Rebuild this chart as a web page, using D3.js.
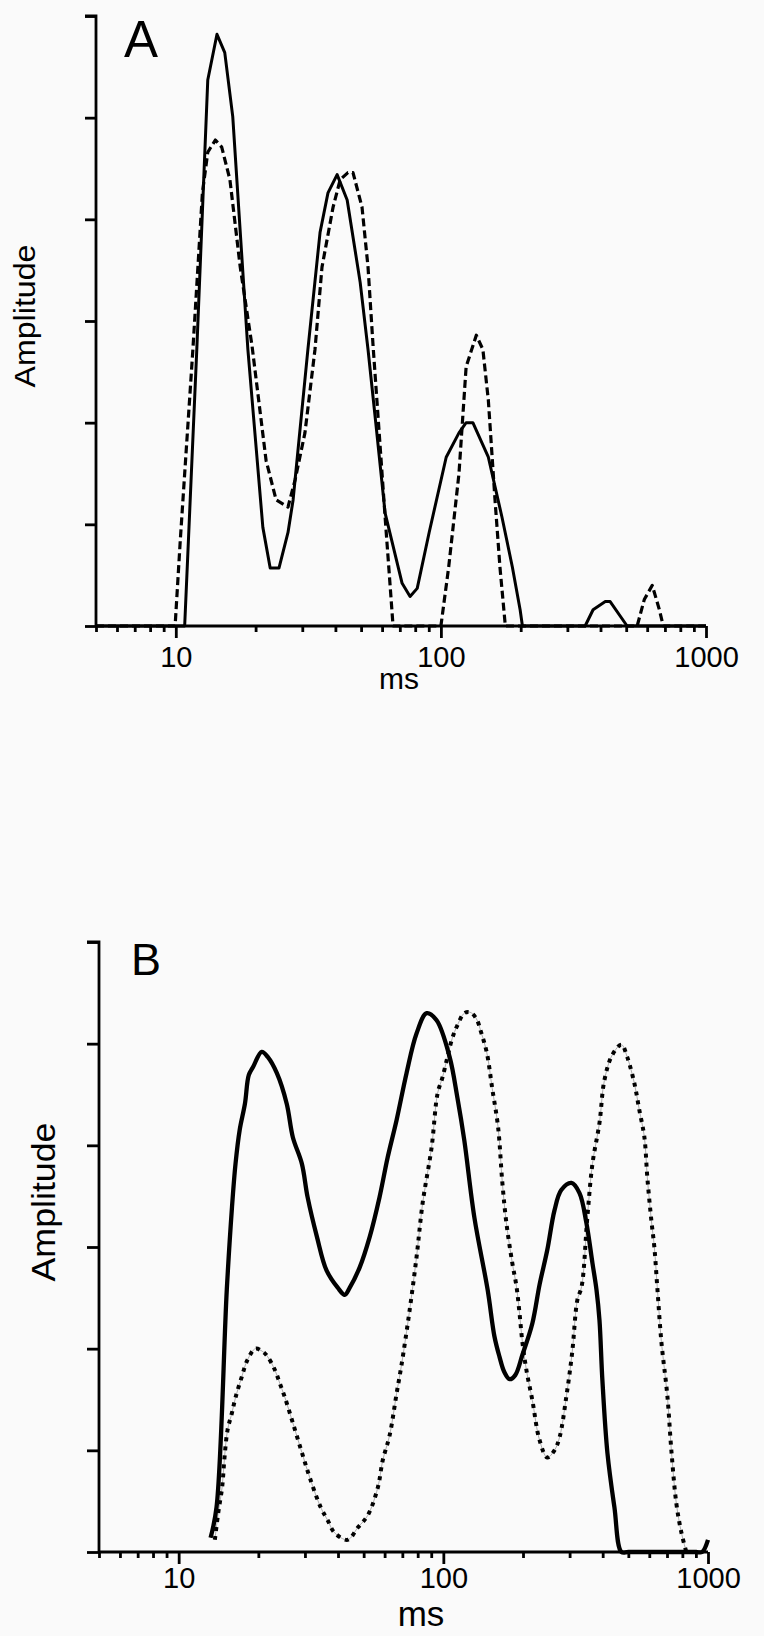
<!DOCTYPE html>
<html>
<head>
<meta charset="utf-8">
<script src="https://cdn.jsdelivr.net/npm/d3@7"></script>
<style>
  body { margin: 0; background: #fafafa; }
  svg { display: block; font-family: "Liberation Sans", Arial, sans-serif; }
</style>
</head>
<body>
<svg id="chart" width="764" height="1636"></svg>
<script>
// Tick labels on the log x axis (ms) and the unlabeled amplitude ticks
const xTickLabels = [10, 100, 1000];
const yTicks = [0, 1, 2, 3, 4, 5, 6];

// Panel A - solid curve (ms, amplitude)
const aSolidMs  = [5, 10.8, 12.0, 13.2, 14.3, 15.3, 16.4, 18.7, 21.3, 22.7, 24.5, 26.5, 27.7, 31.5, 35.0, 37.5, 40.6, 44.3, 49.6, 53.1, 57.0, 61.6, 71.4, 76.5, 81.4, 90.3, 104.7, 117, 124.5, 132, 151, 170, 186, 199, 203, 350, 375, 417, 435, 504, 1000];
const aSolidAmp = [0, 0, 2.72, 5.37, 5.82, 5.64, 5.01, 2.72, 0.97, 0.57, 0.57, 0.92, 1.24, 2.72, 3.87, 4.26, 4.44, 4.19, 3.38, 2.72, 1.96, 1.11, 0.42, 0.29, 0.37, 0.92, 1.66, 1.90, 2.0, 2.0, 1.66, 1.07, 0.58, 0.16, 0, 0, 0.16, 0.24, 0.24, 0, 0];

// Panel A - dashed curve
const aDashMs  = [5, 9.94, 10.4, 11.6, 12.6, 13.2, 14.1, 14.9, 16.0, 17.5, 19.4, 21.9, 23.9, 26.5, 28.2, 30.7, 33.5, 35.6, 39.2, 41.7, 44.6, 46.6, 50.4, 53.1, 55.5, 61.6, 66.0, 100, 107, 117, 124.5, 136, 144, 151, 160, 167, 175, 550, 585, 627, 667, 690, 1000];
const aDashAmp = [0, 0, 0.85, 2.72, 4.26, 4.66, 4.78, 4.71, 4.39, 3.53, 2.75, 1.63, 1.24, 1.17, 1.44, 1.90, 2.72, 3.53, 4.12, 4.39, 4.46, 4.46, 4.12, 3.53, 2.75, 1.07, 0, 0, 0.58, 1.5, 2.55, 2.86, 2.72, 2.22, 1.24, 0.58, 0, 0, 0.26, 0.40, 0.16, 0, 0];

// Panel B - solid curve
const bSolidMs  = [13.2, 13.9, 15.2, 15.9, 16.4, 17.0, 17.8, 18.4, 19.1, 20.6, 21.7, 23.5, 25.6, 27.0, 29.2, 30.7, 33.3, 36.2, 39.9, 42.4, 44.3, 48.3, 52.7, 57.4, 61.6, 66.6, 72.6, 79.2, 86.5, 94.3, 105.6, 113, 120, 131, 147, 156, 163, 170, 178, 187, 199, 217, 231, 247, 263, 279, 305, 327, 347, 366, 379, 389, 399, 417, 443, 471, 500, 600, 700, 800, 903, 950, 1000];
const bSolidAmp = [0.14, 0.44, 2.58, 3.39, 3.82, 4.15, 4.41, 4.69, 4.77, 4.92, 4.87, 4.71, 4.41, 4.08, 3.82, 3.49, 3.10, 2.77, 2.60, 2.53, 2.60, 2.80, 3.10, 3.49, 3.88, 4.25, 4.71, 5.10, 5.30, 5.23, 4.87, 4.47, 4.05, 3.29, 2.58, 2.12, 1.92, 1.77, 1.70, 1.74, 1.94, 2.25, 2.63, 2.97, 3.36, 3.56, 3.63, 3.53, 3.24, 2.84, 2.58, 2.28, 1.69, 0.97, 0.44, 0, 0, 0, 0, 0, 0, 0, 0.12];

// Panel B - dotted curve
const bDotMs  = [13.7, 14.1, 14.6, 14.9, 15.3, 15.9, 16.4, 17.3, 18.2, 19.5, 20.8, 21.7, 23.1, 24.1, 25.2, 27.0, 29.2, 31.3, 34.4, 36.6, 38.8, 43.5, 47.5, 51.8, 56.5, 59.0, 62.7, 66.6, 69.5, 74.6, 79.2, 83.5, 90.3, 95.1, 99.3, 108, 113, 120, 126, 133, 139, 146, 153, 161, 167, 173, 182, 189, 194, 199, 206, 217, 231, 247, 263, 275, 292, 307, 321, 333, 350, 366, 389, 406, 435, 471, 495, 527, 550, 575, 590, 611, 627, 643, 667, 702, 727, 759, 792, 828];
const bDotAmp = [0.12, 0.38, 0.64, 0.93, 1.20, 1.37, 1.52, 1.72, 1.89, 2.00, 1.97, 1.92, 1.79, 1.66, 1.52, 1.27, 0.98, 0.73, 0.44, 0.31, 0.19, 0.12, 0.24, 0.36, 0.63, 0.90, 1.15, 1.56, 1.84, 2.38, 2.90, 3.43, 3.98, 4.51, 4.67, 5.05, 5.18, 5.30, 5.31, 5.25, 5.11, 4.91, 4.56, 4.18, 3.64, 3.24, 2.85, 2.61, 2.35, 2.06, 1.79, 1.49, 1.10, 0.93, 1.00, 1.13, 1.54, 1.97, 2.48, 2.61, 3.29, 3.82, 4.22, 4.64, 4.89, 4.99, 4.87, 4.61, 4.35, 4.08, 3.68, 3.26, 3.00, 2.61, 2.06, 1.54, 1.00, 0.48, 0.20, 0];

const svg = d3.select('#chart');

// pair up ms and amplitude arrays
function zipSeries(ms, amp) {
  return ms.map((m, i) => ({ ms: m, amp: amp[i] }));
}

// Draw one panel: axes, labels and its two curves
function drawPanel(p) {
  const x = d3.scaleLog().domain([5, 1000]).range([p.left, p.right]);
  const y = d3.scaleLinear().domain([0, 6]).range([p.bottom, p.top]);
  const g = svg.append('g');

  // y axis (no labels)
  const yAxis = d3.axisLeft(y).tickValues(yTicks).tickSize(p.yTick).tickFormat('');
  const ya = g.append('g').attr('transform', `translate(${p.left},0)`).call(yAxis);
  ya.select('.domain').attr('d', `M${-p.yTick},${p.top}H0V${p.bottom}`);

  // x axis: minor ticks every unit, majors at decades
  const minor = [];
  [1, 10, 100].forEach(dec => {
    for (let k = 1; k <= 9; k++) {
      const v = k * dec;
      if (v >= 5 && v <= 1000 && !xTickLabels.includes(v)) minor.push(v);
    }
  });
  const xMinor = d3.axisBottom(x).tickValues(minor).tickSize(6).tickFormat('');
  const xm = g.append('g').attr('transform', `translate(0,${p.bottom})`).call(xMinor);
  xm.select('.domain').remove();

  const xMajor = d3.axisBottom(x).tickValues(xTickLabels).tickSize(12).tickFormat(d3.format('d'));
  const xa = g.append('g').attr('transform', `translate(0,${p.bottom})`).call(xMajor);
  xa.select('.domain').attr('d', `M${p.left},0H${p.right}`);
  xa.selectAll('text')
    .attr('y', p.xLabelDy)
    .attr('dy', 0)
    .style('font-size', p.xLabelSize + 'px')
    .style('font-family', '"Liberation Sans", Arial, sans-serif')
    .attr('fill', '#000');

  g.selectAll('.domain, .tick line').attr('stroke', '#000').attr('stroke-width', 2.8);

  // curves
  const line = d3.line()
    .x(d => x(d.ms))
    .y(d => y(d.amp))
    .curve(p.curve);

  p.series.forEach(s => {
    if (s.underlay) {
      g.append('path')
        .attr('d', line(zipSeries(s.ms, s.amp)))
        .attr('fill', 'none')
        .attr('stroke', '#9a9a9a')
        .attr('stroke-width', 0.8);
    }
    g.append('path')
      .attr('d', line(zipSeries(s.ms, s.amp)))
      .attr('fill', 'none')
      .attr('stroke', '#000')
      .attr('stroke-width', s.width)
      .attr('stroke-dasharray', s.dash || null)
      .attr('stroke-linejoin', 'round');
  });

  // axis titles and panel letter
  g.append('text')
    .attr('x', p.msX).attr('y', p.msY)
    .attr('text-anchor', 'middle')
    .style('font-size', p.msSize + 'px')
    .text('ms');

  g.append('text')
    .attr('transform', `translate(${p.ampX},${p.ampY}) rotate(-90)`)
    .attr('text-anchor', 'middle')
    .attr('textLength', p.ampLen)
    .attr('lengthAdjust', 'spacingAndGlyphs')
    .style('font-size', p.ampSize + 'px')
    .text('Amplitude');

  g.append('text')
    .attr('x', p.letterX).attr('y', p.letterY)
    .attr('text-anchor', 'middle')
    .style('font-size', p.letterSize + 'px')
    .text(p.letter);
}

drawPanel({
  left: 96, right: 706, top: 16, bottom: 626, yTick: 11,
  xLabelDy: 41, xLabelSize: 29,
  msX: 399, msY: 689, msSize: 30,
  ampX: 35, ampY: 316, ampSize: 29, ampLen: 143,
  letter: 'A', letterX: 141, letterY: 57, letterSize: 51,
  curve: d3.curveLinear,
  series: [
    { ms: aDashMs, amp: aDashAmp, width: 3.2, dash: '8,4' },
    { ms: aSolidMs, amp: aSolidAmp, width: 3 }
  ]
});

drawPanel({
  left: 99, right: 708, top: 942, bottom: 1552, yTick: 12,
  xLabelDy: 36, xLabelSize: 29,
  msX: 421, msY: 1626, msSize: 35,
  ampX: 55, ampY: 1202, ampSize: 33, ampLen: 159,
  letter: 'B', letterX: 146, letterY: 975, letterSize: 45,
  curve: d3.curveCatmullRom.alpha(0.5),
  series: [
    { ms: bDotMs, amp: bDotAmp, width: 4, dash: '4,5', underlay: true },
    { ms: bSolidMs, amp: bSolidAmp, width: 4.3 }
  ]
});
</script>
</body>
</html>
